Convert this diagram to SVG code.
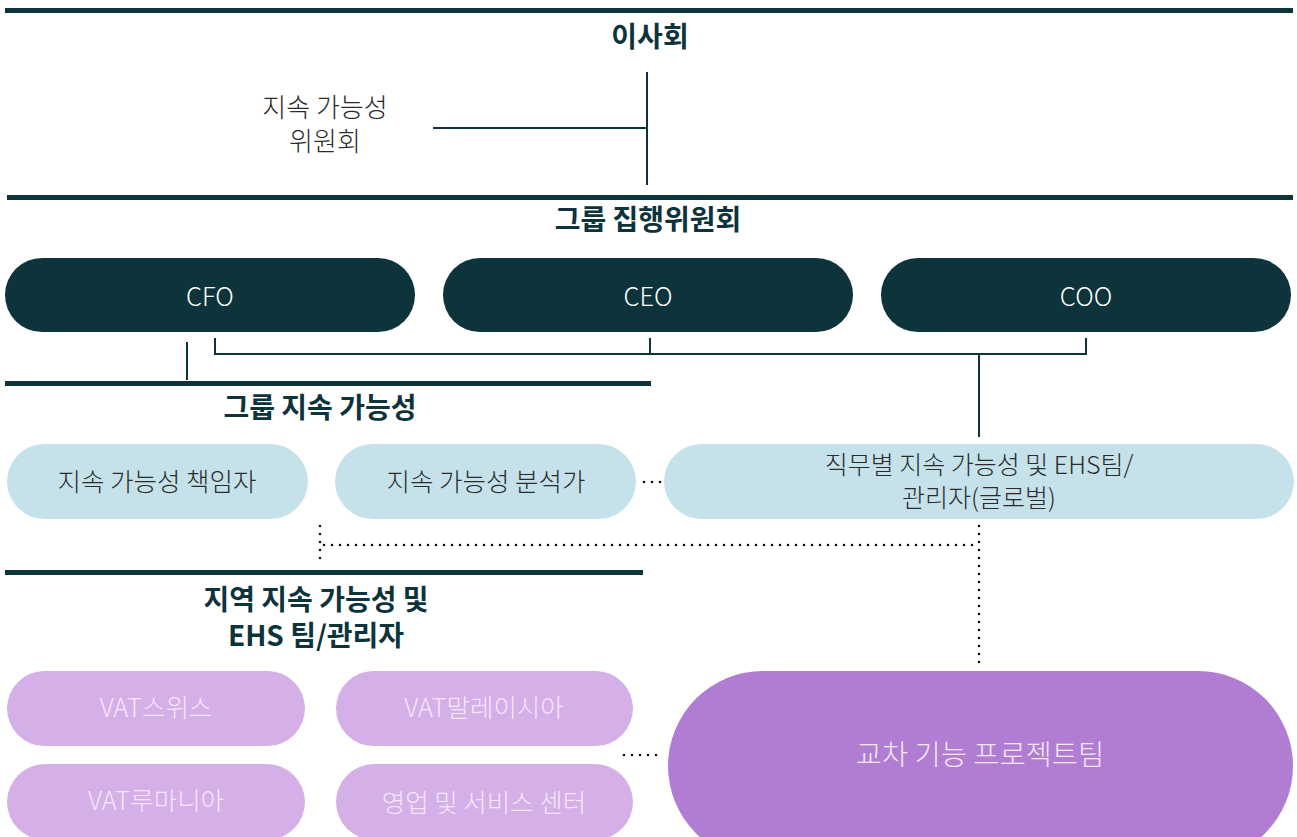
<svg xmlns="http://www.w3.org/2000/svg" width="1297" height="837" viewBox="0 0 1297 837">
<style>
.bar{fill:#0d333b}
.ttl{font-family:"Noto Sans CJK KR","Noto Sans",sans-serif;font-weight:700;font-size:28px;fill:#0d333b;text-anchor:middle}
.lbl{font-family:"Noto Sans CJK KR","Noto Sans",sans-serif;font-weight:300;font-size:25.5px;text-anchor:middle}
.cm{font-size:26px}
.sm{font-size:25px}
.big{font-size:28.5px}
.dark{fill:#0d333b}
.blue{fill:#c5e2ea}
.lav{fill:#d5afe8}
.pur{fill:#b07dd3}
.wt{fill:#ffffff}
.gt{fill:#2b2b2b}
.lt{fill:#f3e8fa}
.ln{stroke:#0d333b;stroke-width:2;fill:none}
.dot{stroke:#111;stroke-width:2.6;stroke-linecap:round;stroke-dasharray:0 8;fill:none}
</style>
<rect width="1297" height="837" fill="#ffffff"/>
<g id="sections">
<rect class="bar" x="5" y="8" width="1288" height="5"/>
<text class="ttl" x="650" y="47">이사회</text>
<text class="lbl cm gt" x="325" y="117">지속 가능성</text>
<text class="lbl cm gt" x="325" y="151">위원회</text>
<rect class="bar" x="7" y="195" width="1286" height="5"/>
<text class="ttl" x="648" y="230">그룹 집행위원회</text>
<rect class="bar" x="5" y="381" width="646" height="5"/>
<text class="ttl" x="320" y="418">그룹 지속 가능성</text>
<rect class="bar" x="5" y="570" width="638" height="5"/>
<text class="ttl" x="316" y="610">지역 지속 가능성 및</text>
<text class="ttl" x="316" y="646">EHS 팀/관리자</text>
</g>
<g id="connectors">
<path class="ln" d="M647 72V185M433 128H647"/>
<path class="ln" d="M187 342V380"/>
<path class="ln" d="M215 338V354H1086V338M650 338V354M979 354V437"/>
<path class="dot" d="M644 482H662"/>
<path class="dot" d="M320 526V562M324 545H976M979 526V664"/>
<path class="dot" d="M624 755H662"/>
</g>
<g id="cfo"><rect class="dark" x="5" y="258" width="410" height="74" rx="37"/><text class="lbl wt" x="210" y="306">CFO</text></g>
<g id="ceo"><rect class="dark" x="443" y="258" width="410" height="74" rx="37"/><text class="lbl wt" x="648" y="306">CEO</text></g>
<g id="coo"><rect class="dark" x="881" y="258" width="410" height="74" rx="37"/><text class="lbl wt" x="1086" y="306">COO</text></g>
<g id="lead"><rect class="blue" x="7" y="444" width="301" height="75" rx="37.5"/><text class="lbl gt" x="157" y="491">지속 가능성 책임자</text></g>
<g id="analyst"><rect class="blue" x="335" y="444" width="301" height="75" rx="37.5"/><text class="lbl gt" x="486" y="491">지속 가능성 분석가</text></g>
<g id="functional"><rect class="blue" x="664" y="444" width="630" height="75" rx="37.5"/><text class="lbl sm gt" x="979" y="474">직무별 지속 가능성 및 EHS팀/</text><text class="lbl sm gt" x="979" y="507">관리자(글로벌)</text></g>
<g id="swiss"><rect class="lav" x="7" y="671" width="298" height="75" rx="37.5"/><text class="lbl lt" x="156" y="717">VAT스위스</text></g>
<g id="malaysia"><rect class="lav" x="336" y="671" width="297" height="75" rx="37.5"/><text class="lbl lt" x="484" y="717">VAT말레이시아</text></g>
<g id="romania"><rect class="lav" x="7" y="764" width="298" height="76" rx="38"/><text class="lbl lt" x="156" y="810">VAT루마니아</text></g>
<g id="sales"><rect class="lav" x="336" y="764" width="297" height="76" rx="38"/><text class="lbl lt" x="484" y="812">영업 및 서비스 센터</text></g>
<g id="crossfunc"><rect class="pur" x="668" y="671" width="625" height="190" rx="95"/><text class="lbl big lt" x="980" y="765">교차 기능 프로젝트팀</text></g>
</svg>
